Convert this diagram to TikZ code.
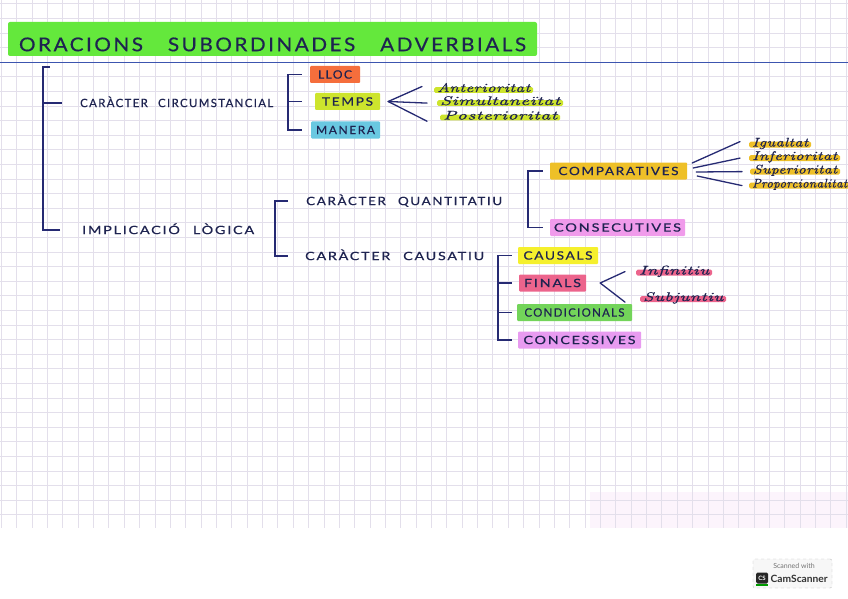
\documentclass[tikz,border=0pt]{standalone}
\usepackage{fontspec}
\usepackage{graphicx}
\newfontfamily\handfont[LetterSpace=12, FakeBold=0.4]{Lato}
\newfontfamily\uifont{Lato}
\newfontfamily\cursfont{lmroman10-italic}[Extension=.otf, LetterSpace=3, FakeBold=0.6]
\newdimen\fitdim
\newcommand\fitw[2]{\setbox0=\hbox{#2}\fitdim=\wd0\pgfmathsetmacro\fitf{#1/\fitdim}\scalebox{\fitf}[1]{\box0}}
\definecolor{inkc}{RGB}{30,35,80}
\definecolor{brkc}{RGB}{38,42,115}
\definecolor{gridc}{RGB}{227,223,235}
\definecolor{bluel}{RGB}{60,85,175}
\definecolor{titlegreen}{RGB}{100,232,60}
\definecolor{orangeC}{RGB}{245,110,60}
\definecolor{limeC}{RGB}{205,228,45}
\definecolor{cyanC}{RGB}{105,200,225}
\definecolor{goldC}{RGB}{238,192,40}
\definecolor{magC}{RGB}{240,155,235}
\definecolor{yelC}{RGB}{245,240,45}
\definecolor{redC}{RGB}{236,100,140}
\definecolor{greenC}{RGB}{115,212,90}
\definecolor{violC}{RGB}{232,155,240}
\definecolor{pinktint}{RGB}{252,244,252}
\begin{document}
\begin{tikzpicture}[x=1pt,y=-1pt,
  brk/.style={draw=brkc, line width=1.7pt},
  forkl/.style={draw=brkc, line width=1.3pt, line cap=round},
  capl/.style={font=\handfont\fontsize{11.5}{11.5}\selectfont, text=inkc, inner sep=0pt, text height=8.2pt, text depth=0pt, anchor=west},
  hbox/.style={capl, anchor=center, fill=#1, minimum height=17pt, rounded corners=1pt},
  curs/.style={font=\cursfont\fontsize{12.5}{12.5}\selectfont, text=inkc, fill=#1, inner xsep=3pt, inner ysep=0.5pt, text height=4.3pt, text depth=0.5pt, anchor=base west, rounded corners=1.5pt}]
\useasboundingbox (0,0) rectangle (848,599);
\fill[white] (0,0) rectangle (848,599);
\fill[pinktint] (590,492) rectangle (848,528);
% grid paper
\foreach \i in {0,...,55} \draw[gridc, line width=0.7pt] ({1.3+15.36*\i},0) -- ({1.3+15.36*\i},528);
\foreach \j in {0,...,35} \draw[gridc, line width=0.7pt] (0,{3.8+14.6*\j}) -- (848,{3.8+14.6*\j});
% title
\node[fill=titlegreen, minimum width=529pt, minimum height=34pt, inner sep=0pt, rounded corners=2pt,
      font=\handfont\fontsize{19}{19}\selectfont, text=inkc, text height=24.5pt, text depth=0pt] (title) at (272.5,39)
  {\fitw{507}{ORACIONS\hspace{1.2em}SUBORDINADES\hspace{1.2em}ADVERBIALS}};
\draw[bluel, line width=1.3pt] (0,62.5) -- (848,62.5);
% first level
\node[capl] (circ) at (80,103) {\fitw{193}{CARÀCTER\hspace{0.9em}CIRCUMSTANCIAL}};
\node[capl] (impl) at (82,230) {\fitw{172}{IMPLICACIÓ\hspace{0.9em}LÒGICA}};
% circumstancial
\node[hbox=orangeC, minimum width=50pt] (lloc) at (335,74.5) {\fitw{34}{LLOC}};
\node[hbox=limeC, minimum width=65pt] (temps) at (347.5,101.5) {\fitw{51}{TEMPS}};
\node[hbox=cyanC, minimum width=69pt] (manera) at (345.5,130) {\fitw{59}{MANERA}};
\node[curs=limeC] (ant) at (434,92) {\fitw{93}{Anterioritat}};
\node[curs=limeC] (sim) at (437,105) {\fitw{120}{Simultaneïtat}};
\node[curs=limeC] (post) at (440,119.5) {\fitw{114}{Posterioritat}};
% implicacio
\node[capl] (quant) at (306,201) {\fitw{196}{CARÀCTER\hspace{0.9em}QUANTITATIU}};
\node[capl] (caus) at (305,256) {\fitw{179}{CARÀCTER\hspace{0.9em}CAUSATIU}};
\node[hbox=goldC, minimum width=137pt] (comp) at (618.5,171) {\fitw{120}{COMPARATIVES}};
\node[hbox=magC, minimum width=135pt] (cons) at (617.5,227.5) {\fitw{127}{CONSECUTIVES}};
\node[curs=goldC] (igu) at (749,146.5) {\fitw{56}{Igualtat}};
\node[curs=goldC] (inf) at (749,160) {\fitw{85}{Inferioritat}};
\node[curs=goldC] (sup) at (750,173.5) {\fitw{84}{Superioritat}};
\node[curs=goldC] (prop) at (749,187.5) {\fitw{95}{Proporcionalitat}};
\node[hbox=yelC, minimum width=80pt] (causals) at (558,255.5) {\fitw{69}{CAUSALS}};
\node[hbox=redC, minimum width=67pt] (finals) at (552.5,283) {\fitw{57}{FINALS}};
\node[hbox=greenC, minimum width=115pt] (cond) at (574.5,312.5) {\fitw{100}{CONDICIONALS}};
\node[hbox=violC, minimum width=123pt] (conc) at (579.5,340) {\fitw{112}{CONCESSIVES}};
\node[curs=redC] (infi) at (636,274.5) {\fitw{70}{Infinitiu}};
\node[curs=redC] (subj) at (640,301) {\fitw{80}{Subjuntiu}};
% brackets
\draw[brk] ([xshift=-22pt]impl.west) -| (43,67) -- (50,67);
\draw[brk] (circ.west -| 43,0) -- ([xshift=-18pt]circ.west);
\draw[brk] ([xshift=-8pt]lloc.west) -| ([xshift=-23pt]manera.west) -- ([xshift=-9pt]manera.west);
\draw[brk] ([xshift=-27pt]temps.west) -- ([xshift=-13pt]temps.west);
\draw[brk] ([xshift=-18pt]quant.west) -| ([xshift=-30pt]caus.west) -- ([xshift=-17pt]caus.west);
\draw[brk] ([xshift=-7pt]comp.west) -| ([xshift=-22pt]cons.west) -- ([xshift=-7pt]cons.west);
\draw[brk] ([xshift=-6pt]causals.west) -| ([xshift=-20pt]conc.west) -- ([xshift=-6pt]conc.west);
\draw[brk] ([xshift=-21pt]finals.west) -- ([xshift=-7pt]finals.west);
\draw[brk] ([xshift=-19pt]cond.west) -- ([xshift=-5pt]cond.west);
% forks
\draw[forkl] ([xshift=8pt]temps.east) -- ([xshift=-12pt,yshift=3.6pt]ant.west);
\draw[forkl] ([xshift=8pt]temps.east) -- ([xshift=-10pt]sim.west);
\draw[forkl] ([xshift=8pt]temps.east) -- ([xshift=-13pt,yshift=-3.6pt]post.west);
\draw[forkl] ([xshift=5pt,yshift=8pt]comp.east) -- ([xshift=-9pt,yshift=3pt]igu.west);
\draw[forkl] ([xshift=6pt,yshift=3pt]comp.east) -- ([xshift=-9pt]inf.west);
\draw[forkl] ([xshift=9pt,yshift=-1pt]comp.east) -- ([xshift=-8pt]sup.west);
\draw[forkl] ([xshift=10pt,yshift=-5pt]comp.east) -- ([xshift=-7pt]prop.west);
\draw[forkl] ([xshift=14pt]finals.east) -- ([xshift=-11pt,yshift=1pt]infi.west);
\draw[forkl] ([xshift=14pt]finals.east) -- ([xshift=-15pt,yshift=-3pt]subj.west);
% scanner badge
\node[draw=black!25, dashed, fill=black!3, rounded corners=2pt, minimum width=79pt, minimum height=29pt, inner sep=0pt] (badge) at (792.5,573.5) {};
\node[font=\uifont\fontsize{7}{7}\selectfont, text=black!55, inner sep=0pt] (scw) at (794,565.5) {Scanned with};
\node[fill=black!85, rounded corners=1.5pt, text=white, font=\uifont\bfseries\fontsize{6}{6}\selectfont, inner sep=0pt, minimum width=12pt, minimum height=11pt] (cs) at (762,578) {CS};
\fill[green!60!black] (cs.south west) rectangle ([yshift=-1.8pt]cs.south east);
\node[font=\uifont\bfseries\fontsize{10}{10}\selectfont, text=black!80, anchor=west, inner sep=0pt] (csname) at (770.5,579) {\fitw{57}{CamScanner}};
\end{tikzpicture}
\end{document}
